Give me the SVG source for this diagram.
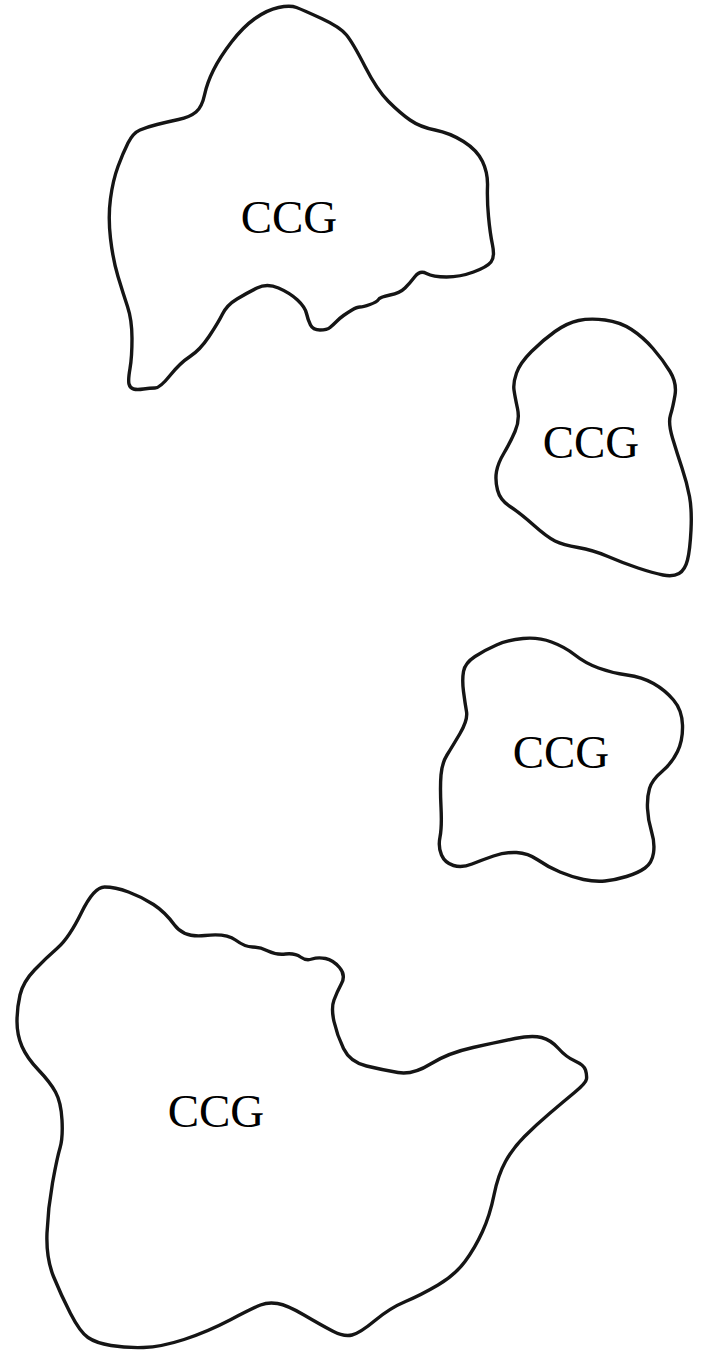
<svg xmlns="http://www.w3.org/2000/svg" width="701" height="1354" viewBox="0 0 701 1354">
<style>
.blob{fill:#fff;stroke:#151515;stroke-width:3.4;stroke-linejoin:round}
.lbl{font-family:"Liberation Serif","Times New Roman",serif;font-size:47px;fill:#000;text-anchor:middle}
</style>
<rect width="701" height="1354" fill="#fff"/>
<g id="ccg1">
<path class="blob" d="M296.5,7.5 Q303,10 321.5,18.5 Q340,27 346.5,35 Q353,43 365,66.5 Q377,90 388.5,101.5 Q400,113 410,120 Q420,127 435,130 Q450,133 463.5,141.5 Q477,150 482.5,161.5 Q488,173 487.5,186.5 Q487,200 488.5,216.5 Q490,233 492.5,245 Q495,257 491,262 Q487,267 473.5,272 Q460,277 446.5,277 Q433,277 426.5,273.5 Q420,270 415,276.5 Q410,283 405,288 Q400,293 390,295 Q380,297 378.5,299.5 Q377,302 370,304.5 Q363,307 360,307 Q357,307 352,310 Q347,313 343.5,315.5 Q340,318 336.5,321.5 Q333,325 330,327.5 Q327,330 320,330 Q313,330 310.5,325 Q308,320 306.5,313.5 Q305,307 297.5,300 Q290,293 278.5,288 Q267,283 257,288 Q247,293 237,299 Q227,305 222.5,314 Q218,323 209,336.5 Q200,350 190,356.5 Q180,363 170,375.5 Q160,388 155,388 Q150,388 143.5,389 Q137,390 133.5,389 Q130,388 129,384 Q128,380 130,368.5 Q132,357 132,338.5 Q132,320 127.5,306.5 Q123,293 118,276.5 Q113,260 110.5,238.5 Q108,217 110.5,198.5 Q113,180 118,166.5 Q123,153 128,143 Q133,133 140,130 Q147,127 157,124.5 Q167,122 178.5,119.5 Q190,117 196,112 Q202,107 204.5,95 Q207,83 213.5,70 Q220,57 231.5,42 Q243,27 255,18.5 Q267,10 278.5,7.5 Q290,5 296.5,7.5 Z"/>
<text class="lbl" x="289" y="233">CCG</text>
</g>
<g id="ccg2">
<path class="blob" d="M605,320 Q620,322 631.5,329.5 Q643,337 653,348.5 Q663,360 670,371.5 Q677,383 675,395 Q673,407 670.5,415 Q668,423 672.5,438 Q677,453 682,468 Q687,483 689.5,496.5 Q692,510 691,530 Q690,550 687.5,560 Q685,570 679,573.5 Q673,577 663,575 Q653,573 638,568 Q623,563 608,556.5 Q593,550 578,547.5 Q563,545 555,541 Q547,537 533.5,525 Q520,513 510,506.5 Q500,500 497.5,490 Q495,480 496.5,471.5 Q498,463 504,453 Q510,443 515,431.5 Q520,420 517.5,408.5 Q515,397 514,390 Q513,383 516.5,373 Q520,363 531.5,351.5 Q543,340 555,331.5 Q567,323 578.5,320.5 Q590,318 605,320 Z"/>
<text class="lbl" x="591" y="458">CCG</text>
</g>
<g id="ccg3">
<path class="blob" d="M523,638.5 Q538,637 551.5,642 Q565,647 575,655 Q585,663 598.5,668 Q612,673 627,675 Q642,677 653.5,683.5 Q665,690 673.5,700 Q682,710 682.5,725 Q683,740 677.5,751.5 Q672,763 662,771.5 Q652,780 649.5,788.5 Q647,797 647.5,808.5 Q648,820 651.5,831.5 Q655,843 653.5,853 Q652,863 645,868 Q638,873 626.5,876.5 Q615,880 605,881 Q595,882 583.5,879.5 Q572,877 560,872 Q548,867 538,860 Q528,853 516.5,852.5 Q505,852 493.5,856 Q482,860 472,864 Q462,868 453.5,865.5 Q445,863 441.5,855 Q438,847 440,837 Q442,827 441,807 Q440,787 441,775 Q442,763 447,755 Q452,747 460,733.5 Q468,720 466.5,711.5 Q465,703 463.5,691.5 Q462,680 463.5,671.5 Q465,663 475,656.5 Q485,650 496.5,645 Q508,640 523,638.5 Z"/>
<text class="lbl" x="561" y="768">CCG</text>
</g>
<g id="ccg4">
<path class="blob" d="M104.5,887 Q115,887 128.5,892 Q142,897 153.5,904.5 Q165,912 174.5,925 Q184,938 205,935.5 Q226,933 235.5,940 Q245,947 252.5,947 Q260,947 268,951 Q276,955 285.5,954 Q295,953 300.5,957 Q306,961 312,959 Q318,957 325.5,958.5 Q333,960 339.5,967.5 Q346,975 341.5,983.5 Q337,992 334,1000 Q331,1008 334,1021.5 Q337,1035 343.5,1048.5 Q350,1062 366.5,1066 Q383,1070 398,1072.5 Q413,1075 430.5,1064 Q448,1053 473,1047.5 Q498,1042 515,1038.5 Q532,1035 541.5,1037.5 Q551,1040 558.5,1048.5 Q566,1057 575,1061 Q584,1065 585.5,1070 Q587,1075 586.5,1079 Q586,1083 574.5,1092.5 Q563,1102 549.5,1113.5 Q536,1125 524.5,1136.5 Q513,1148 505.5,1161.5 Q498,1175 494,1195 Q490,1215 482.5,1231.5 Q475,1248 465,1261.5 Q455,1275 438,1285 Q421,1295 405.5,1301.5 Q390,1308 375,1320.5 Q360,1333 352,1335 Q344,1337 332.5,1331 Q321,1325 304,1315 Q287,1305 277.5,1303.5 Q268,1302 260.5,1305 Q253,1308 230,1320 Q207,1332 184,1339.5 Q161,1347 143.5,1347.5 Q126,1348 111,1345.5 Q96,1343 88,1337.5 Q80,1332 70.5,1313.5 Q61,1295 53.5,1276.5 Q46,1258 47,1233 Q48,1208 52.5,1183 Q57,1158 60,1148 Q63,1138 62,1120 Q61,1102 55.5,1092 Q50,1082 38.5,1070 Q27,1058 22,1046.5 Q17,1035 17,1021.5 Q17,1008 20,995 Q23,982 34.5,970 Q46,958 57.5,948 Q69,938 81.5,912.5 Q94,887 104.5,887 Z"/>
<text class="lbl" x="216" y="1127">CCG</text>
</g>
<g id="connectors"/>
</svg>
